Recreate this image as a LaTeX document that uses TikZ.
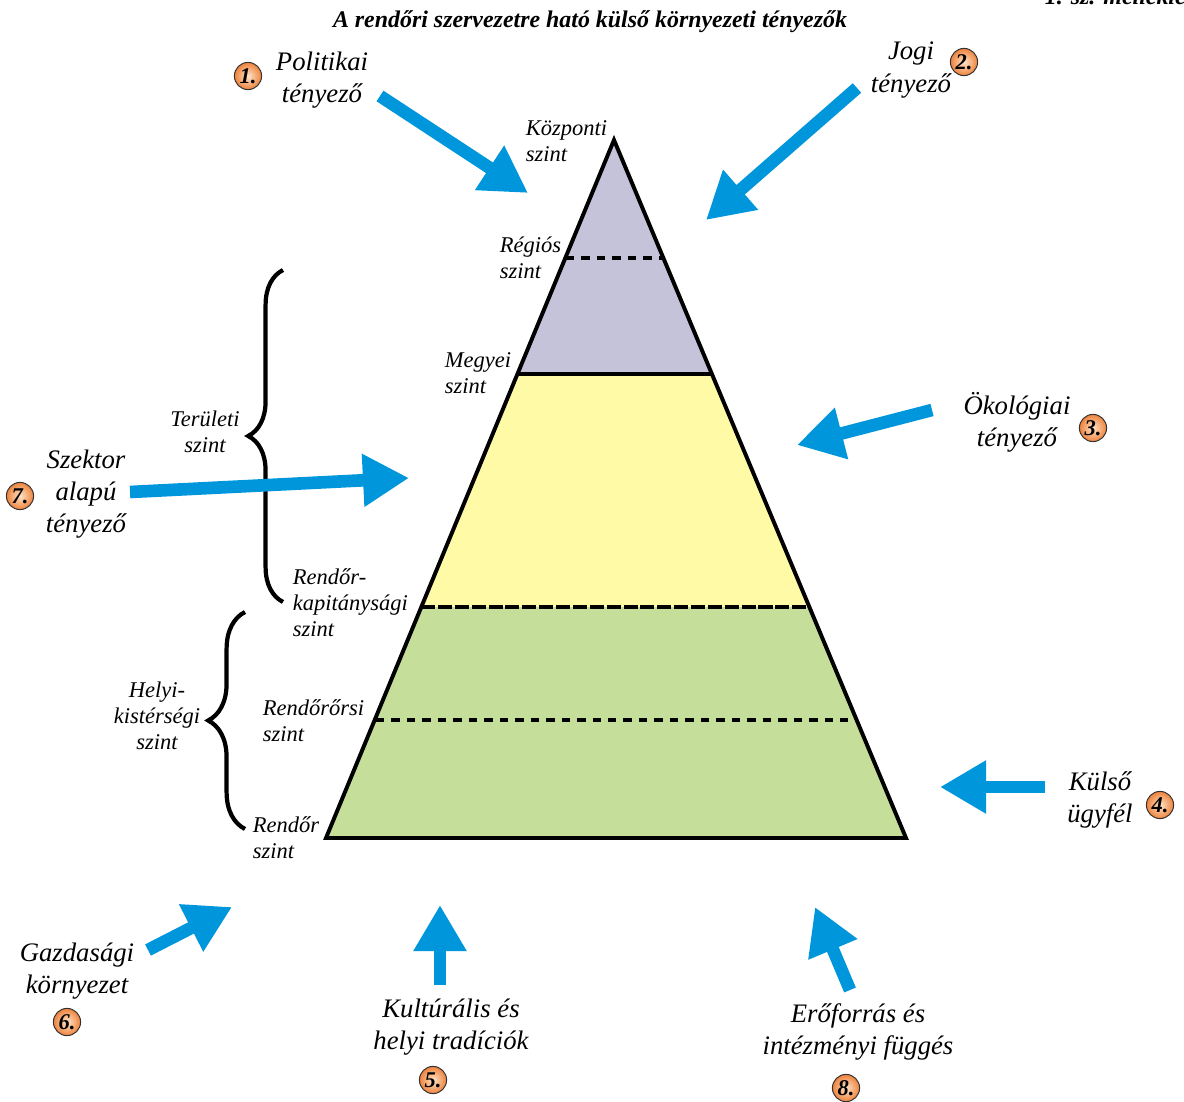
\documentclass[tikz,border=0pt]{standalone}
\usepackage{fontspec}
\setmainfont{Liberation Serif}
\usepackage{xcolor}
\usetikzlibrary{arrows.meta,decorations.pathreplacing}

\definecolor{factorblue}{RGB}{0,150,220}
\definecolor{toplevel}{RGB}{197,195,218}
\definecolor{midlevel}{RGB}{255,250,165}
\definecolor{lowlevel}{RGB}{197,223,155}
\definecolor{numlight}{RGB}{255,228,200}
\definecolor{numorange}{RGB}{238,130,60}

\tikzset{
    factor/.style={draw=factorblue,line width=9pt,
        -{Triangle[length=1.15cm,width=1.25cm]}},
    factortext/.style={font=\fontsize{19}{23}\selectfont\itshape,align=center},
    leveltext/.style={font=\fontsize{16}{18.5}\selectfont\itshape,align=left,anchor=west},
    numbadge/.style={circle,draw=black!80,line width=0.7pt,shading=radial,
        inner color=numlight,outer color=numorange,inner sep=0pt,minimum size=0.68cm,
        font=\fontsize{16}{16}\selectfont\bfseries\itshape},
    levelbrace/.style={decorate,line width=3pt}
}

\begin{document}
\begin{tikzpicture}[x=0.025cm,y=-0.025cm]
    \useasboundingbox (0,0) rectangle (1184,1102);
    % title
    \node (title) at (590,22) {\fontsize{17}{20}\selectfont\bfseries\itshape A rendőri szervezetre ható külső környezeti tényezők};
    \node[anchor=base west] (annex) at (1040,5) {\fontsize{17}{20}\selectfont\bfseries\itshape 1. sz. melléklet};

    % pyramid
    \coordinate (apex) at (614,140);
    \coordinate (bl) at (326,838);
    \coordinate (br) at (906,838);
    \coordinate (ml) at (518,374);
    \coordinate (mr) at (712,374);
    \coordinate (kl) at (421,607);
    \coordinate (kr) at (809,607);
    \fill[toplevel] (apex) -- (ml) -- (mr) -- cycle;
    \fill[midlevel] (ml) -- (kl) -- (kr) -- (mr) -- cycle;
    \fill[lowlevel] (kl) -- (bl) -- (br) -- (kr) -- cycle;
    \draw[line width=2.6pt] (ml) -- (mr);
    \draw[line width=2.2pt,dash pattern=on 6pt off 5pt] (566,258) -- (662,258);
    \draw[line width=3pt,dash pattern=on 10pt off 2pt] (kl) -- (kr);
    \draw[line width=2.2pt,dash pattern=on 6pt off 5pt] (376,720) -- (856,720);
    \draw[line width=2.8pt,line join=miter] (apex) -- (bl) -- (br) -- cycle;

    % level labels
    \node[leveltext] (kozp) at (521,141) {Központi\\szint};
    \node[leveltext] (reg) at (495,258) {Régiós\\szint};
    \node[leveltext] (megy) at (440,373) {Megyei\\szint};
    \node[leveltext] (kap) at (288,603) {Rendőr-\\kapitánysági\\szint};
    \node[leveltext] (ors) at (258,721) {Rendőrőrsi\\szint};
    \node[leveltext] (rend) at (248,838) {Rendőr\\szint};
    \node[leveltext,align=center,anchor=center] (terul) at (205,432) {Területi\\szint};
    \node[leveltext,align=center,anchor=center] (helyi) at (157,716) {Helyi-\\kistérségi\\szint};

    % braces
    \draw[levelbrace,decoration={brace,amplitude=0.87cm}] (283,602) -- (283,270);
    \draw[levelbrace,decoration={brace,amplitude=0.92cm}] (245,829) -- (245,612);

    % factors
    \node[factortext] (pol) at (322,80) {Politikai\\tényező};
    \node[factortext] (jog) at (911,70) {Jogi\\tényező};
    \node[factortext] (oko) at (1017,422) {Ökológiai\\tényező};
    \node[factortext] (kul) at (1100,800) {Külső\\ügyfél};
    \node[factortext] (trad) at (451,1027) {Kultúrális és\\helyi tradíciók};
    \node[factortext] (gazd) at (77,971) {Gazdasági\\környezet};
    \node[factortext] (szek) at (86,494) {Szektor\\alapú\\tényező};
    \node[factortext] (erof) at (858,1032) {Erőforrás és\\intézményi függés};

    \node[numbadge] (n1) at (248,76) {1.};
    \node[numbadge] (n2) at (964,62) {2.};
    \node[numbadge] (n3) at (1093,428) {3.};
    \node[numbadge] (n4) at (1160,805) {4.};
    \node[numbadge] (n5) at (433,1080) {5.};
    \node[numbadge] (n6) at (67,1022) {6.};
    \node[numbadge] (n7) at (20,496) {7.};
    \node[numbadge] (n8) at (846,1088) {8.};

    % arrows
    \coordinate (s1) at (380,96);  \coordinate (t1) at (528,193);
    \coordinate (s2) at (857,88);  \coordinate (t2) at (706,220);
    \coordinate (s3) at (932,410); \coordinate (t3) at (797,445);
    \coordinate (s4) at (1045,787);\coordinate (t4) at (940,787);
    \coordinate (s5) at (440,985); \coordinate (t5) at (440,905);
    \coordinate (s6) at (148,950); \coordinate (t6) at (232,907);
    \coordinate (s7) at (130,492); \coordinate (t7) at (409,478);
    \coordinate (s8) at (850,990); \coordinate (t8) at (815,907);
    \foreach \i in {1,...,8}
        \draw[factor] (s\i) -- (t\i);
\end{tikzpicture}
\end{document}
